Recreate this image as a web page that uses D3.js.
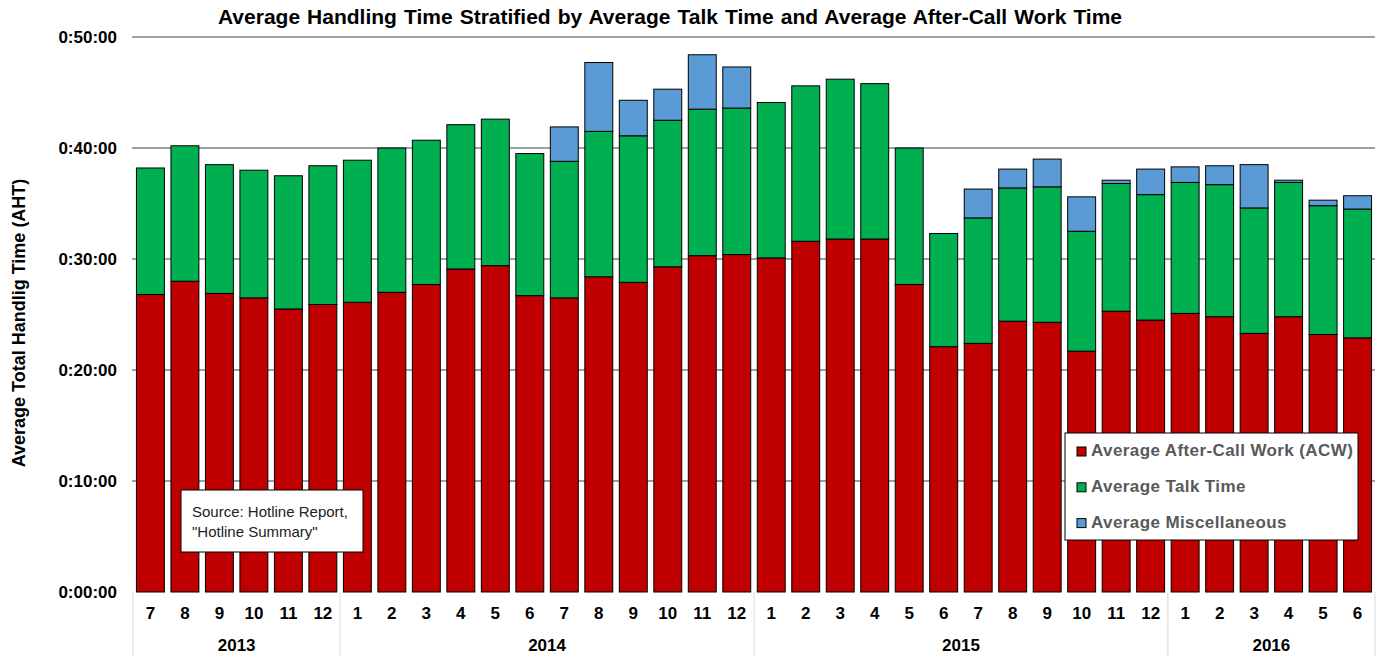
<!DOCTYPE html>
<html>
<head>
<meta charset="utf-8">
<script src="https://cdn.jsdelivr.net/npm/d3@7"></script>
<style>
  body { margin: 0; background: #fff; }
  text { font-family: "Liberation Sans", Arial, sans-serif; }
</style>
</head>
<body>
<div id="chart"></div>
<script>
// periods shown on the x axis (year-month)
let periods = ["2013-7","2013-8","2013-9","2013-10","2013-11","2013-12",
  "2014-1","2014-2","2014-3","2014-4","2014-5","2014-6","2014-7","2014-8","2014-9","2014-10","2014-11","2014-12",
  "2015-1","2015-2","2015-3","2015-4","2015-5","2015-6","2015-7","2015-8","2015-9","2015-10","2015-11","2015-12",
  "2016-1","2016-2","2016-3","2016-4","2016-5","2016-6"]

// minutes per segment
let acw = [26.8,28.0,26.9,26.5,25.5,25.9,
  26.1,27.0,27.7,29.1,29.4,26.7,26.5,28.4,27.9,29.3,30.3,30.4,
  30.1,31.6,31.8,31.8,27.7,22.1,22.4,24.4,24.3,21.7,25.3,24.5,
  25.1,24.8,23.3,24.8,23.2,22.9]
let talk = [11.4,12.2,11.6,11.5,12.0,12.5,
  12.8,13.0,13.0,13.0,13.2,12.8,12.3,13.1,13.2,13.2,13.2,13.2,
  14.0,14.0,14.4,14.0,12.3,10.2,11.3,12.0,12.2,10.8,11.5,11.3,
  11.8,11.9,11.3,12.1,11.6,11.6]
let misc = [0,0,0,0,0,0,
  0,0,0,0,0,0,3.1,6.2,3.2,2.8,4.9,3.7,
  0,0,0,0,0,0,2.6,1.7,2.5,3.1,0.3,2.3,
  1.4,1.7,3.9,0.2,0.5,1.2]

let seriesNames = ["Average After-Call Work (ACW)", "Average Talk Time", "Average Miscellaneous"]
let seriesColors = ["#C00000", "#00B050", "#5B9BD5"]
let yTicks = [0, 10, 20, 30, 40, 50]

let width = 1380, height = 656
let plotLeft = 133, plotRight = 1375, plotTop = 37, plotBottom = 592

let svg = d3.select("#chart").append("svg")
  .attr("width", width)
  .attr("height", height)

let x = d3.scaleBand().domain(periods).range([plotLeft, plotRight]).paddingInner(0.19).paddingOuter(0.1)
let y = d3.scaleLinear().domain([0, 50]).range([plotBottom, plotTop])

// title
svg.append("text")
  .attr("x", 670).attr("y", 24)
  .attr("text-anchor", "middle")
  .style("font-size", "21px").style("font-weight", "bold").style("word-spacing", "1.2px")
  .text("Average Handling Time Stratified by Average Talk Time and Average After-Call Work Time")

// gridlines
svg.append("g").selectAll("line")
  .data(yTicks.filter(d => d > 0))
  .enter().append("line")
    .attr("x1", plotLeft - 1).attr("x2", plotRight)
    .attr("y1", d => y(d)).attr("y2", d => y(d))
    .attr("stroke", "#808080").attr("stroke-width", 1.5)

// y axis labels
let yAxis = d3.axisLeft(y).tickValues(yTicks).tickSize(0).tickPadding(16)
  .tickFormat(d => "0:" + d3.format("02")(d) + ":00")
let yg = svg.append("g").attr("transform", "translate(" + plotLeft + ",0)").call(yAxis)
yg.select(".domain").remove()
yg.selectAll("text")
  .style("font-family", "'Liberation Sans', Arial, sans-serif")
  .style("font-size", "17px").style("font-weight", "bold").attr("fill", "#000")

svg.append("text")
  .attr("transform", "translate(25,323) rotate(-90)")
  .attr("text-anchor", "middle")
  .style("font-size", "18px").style("font-weight", "bold")
  .text("Average Total Handlig Time (AHT)")

// stacked bars
let rows = periods.map((p, i) => ({ period: p, acw: acw[i], talk: talk[i], misc: misc[i] }))
let stack = d3.stack().keys(["acw", "talk", "misc"])
let layers = stack(rows)

svg.append("g").selectAll("g")
  .data(layers)
  .enter().append("g")
    .attr("fill", (d, i) => seriesColors[i])
  .selectAll("rect")
  .data(d => d.filter(s => s[1] - s[0] > 0))
  .enter().append("rect")
    .attr("x", d => x(d.data.period))
    .attr("width", x.bandwidth())
    .attr("y", d => y(d[1]))
    .attr("height", d => y(d[0]) - y(d[1]))
    .attr("stroke", "#000").attr("stroke-width", 1)

// x axis: months and years
let monthOf = p => p.split("-")[1]
let yearOf = p => p.split("-")[0]
svg.append("g").selectAll("text")
  .data(periods)
  .enter().append("text")
    .attr("x", d => x(d) + x.bandwidth() / 2)
    .attr("y", 619)
    .attr("text-anchor", "middle")
    .style("font-size", "17px").style("font-weight", "bold")
    .text(monthOf)

let years = Array.from(new Set(periods.map(yearOf)))
let step = x.step()
let yearSpan = yr => {
  let ps = periods.filter(p => yearOf(p) === yr)
  return [x(ps[0]) - (step - x.bandwidth()) / 2, x(ps[ps.length - 1]) + x.bandwidth() + (step - x.bandwidth()) / 2]
}
let sep = [plotLeft].concat(years.map(yr => yearSpan(yr)[1]))
sep[sep.length - 1] = plotRight
svg.append("g").selectAll("line")
  .data(sep)
  .enter().append("line")
    .attr("x1", d => d).attr("x2", d => d)
    .attr("y1", plotBottom).attr("y2", height)
    .attr("stroke", "#d9d9d9").attr("stroke-width", 1)

svg.append("g").selectAll("text")
  .data(years)
  .enter().append("text")
    .attr("x", d => (yearSpan(d)[0] + yearSpan(d)[1]) / 2)
    .attr("y", 651)
    .attr("text-anchor", "middle")
    .style("font-size", "17px").style("font-weight", "bold")
    .text(d => d)

// source note
let note = svg.append("g").attr("transform", "translate(181,490)")
note.append("rect").attr("width", 182).attr("height", 62)
  .attr("fill", "#fff").attr("stroke", "#000").attr("stroke-width", 1)
note.append("text").attr("x", 11).attr("y", 27)
  .style("font-size", "15px").attr("fill", "#222")
  .text("Source: Hotline Report,")
note.append("text").attr("x", 11).attr("y", 47)
  .style("font-size", "15px").attr("fill", "#222")
  .text("\"Hotline Summary\"")

// legend
let legend = svg.append("g").attr("transform", "translate(1065,433)")
legend.append("rect").attr("width", 293).attr("height", 107)
  .attr("fill", "#fff").attr("stroke", "#000").attr("stroke-width", 1)
let items = legend.selectAll(".item")
  .data(seriesNames)
  .enter().append("g")
    .attr("transform", (d, i) => "translate(12," + (23 + i * 35.8) + ")")
items.append("rect")
  .attr("x", 0).attr("y", -9).attr("width", 9).attr("height", 9)
  .attr("fill", (d, i) => seriesColors[i]).attr("stroke", "#000").attr("stroke-width", 1)
items.append("text")
  .attr("x", 14).attr("y", 0)
  .style("font-size", "17px").style("font-weight", "bold").style("letter-spacing", "0.4px")
  .attr("fill", "#595959")
  .text(d => d)
</script>
</body>
</html>
